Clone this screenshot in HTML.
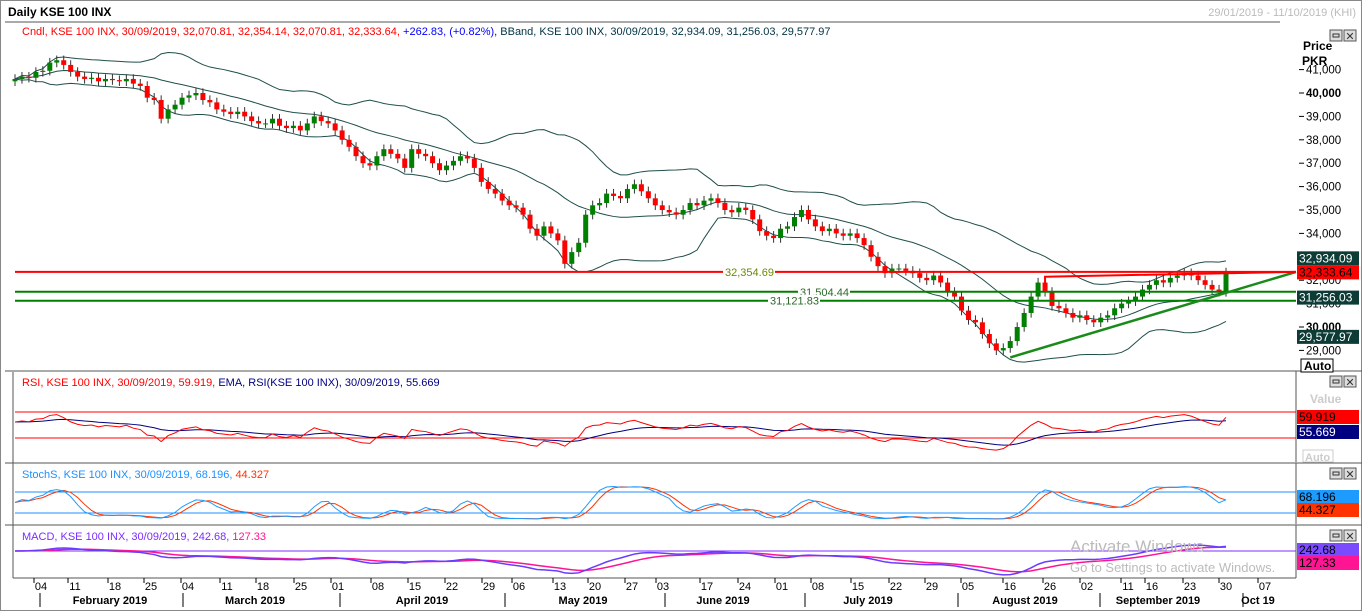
<!DOCTYPE html>
<html><head><meta charset="utf-8"><style>
body{margin:0;background:#fff;}
svg{display:block;font-family:"Liberation Sans",sans-serif;}
</style></head><body>
<svg id="c" width="1362" height="611" viewBox="0 0 1362 611">
<rect x="0" y="0" width="1362" height="611" fill="#fff"/>
<rect x="0.5" y="0.5" width="1361" height="610" fill="none" stroke="#888"/>
<text x="8" y="16" font-size="12" font-weight="bold" fill="#000">Daily KSE 100 INX</text>
<text x="1356" y="16" font-size="11" fill="#bbb" text-anchor="end">29/01/2019 - 11/10/2019 (KHI)</text>
<line x1="5" y1="22" x2="1280" y2="22" stroke="#555"/>
<text x="22" y="35" font-size="11"><tspan fill="#f00">Cndl, KSE 100 INX, 30/09/2019, 32,070.81, 32,354.14, 32,070.81, 32,333.64, </tspan><tspan fill="#00f">+262.83, (+0.82%), </tspan><tspan fill="#034">BBand, KSE 100 INX, 30/09/2019, 32,934.09, 31,256.03, 29,577.97</tspan></text>
<g id="panels"></g>
<g id="main"></g>
<g id="ind"></g>
<g id="axis"></g>
</svg>
<script>
const closes=[40600,40700,40650,40900,
40950,41300,41400,41200,40900, 40700,40600,40650,40500,40600, 40550,40500,40600,40400,40300,
39800,39700,38900,39300,39500, 39800,39900,40000,39700,39600, 39300,39200,39100,39200,39000,
38800,38700,38700,38900,38600, 38500,38600,38400,38700,39000, 38800,38700,38400,38000,37700,
37300,37000,36900,37300,37600, 37400,37200,36800,37600,37400, 37300,37000,36700,36900,37100,
37300,37200,36800,36200,35900, 35700,35400,35200,35100,34800, 34200,33900,34300,34000,33700,
32700,33200,33600,34800,35200, 35300,35700,35600,35500,35900, 36100,35800,35500,35200,35000,
34900,34800,35000,35300,35200, 35400,35500,35300,35000,34900, 35100,35000,34600,34100,33900,
33800,34200,34300,34700,35000, 34600,34300,34100,34200,34000, 33900,34000,33800,33500,33000,
32600,32300,32500,32500,32400, 32300,32100,32000,32200,31900, 31500,31300,30700,30300,30200,
29700,29300,29000,29100,29400, 30000,30600,31300,31900,31500, 30900,30800,30600,30400,30500,
30300,30200,30400,30500,30800, 31000,31100,31300,31600,31800, 32000,31900,32100,32200,32300,
32200,32000,31800,31600,31500, 32333.64];
const priceTicks=[41000,40000,39000,38000,37000,36000,35000,34000,32000,31000,30000,29000];
const hLevels=[32354.69,31504.44,31121.83];
const hLabels=["32,354.69","31,504.44","31,121.83"];
const dayLabels=["04","11","18","25","04","11","18","25","01","08","15","22","29","06","13","20","27","03","17","24","01","08","15","22","29","05","16","26","02","11","16","23","30","07"];
const dayX=[41,75,115,151,188,227,263,301,338,378,415,452,489,519,560,595,632,663,707,745,782,818,858,896,932,968,1010,1050,1087,1128,1152,1190,1226,1265];
const monthLabels=["February 2019","March 2019","April 2019","May 2019","June 2019","July 2019","August 2019","September 2019","Oct 19"];
const monthX=[110,255,422,583,723,868,1025,1158,1258];
const monthSep=[40,183,340,505,665,805,958,1100,1243];

const NS="http://www.w3.org/2000/svg";
function mk(p,t,a){const e=document.createElementNS(NS,t);for(const k in a)e.setAttribute(k,a[k]);p.appendChild(e);return e;}
const X=i=>15+i*(1211/(closes.length-1));
const Y=v=>93+(40000-v)*0.0234;
const P=document.getElementById('panels'),M=document.getElementById('main'),I=document.getElementById('ind'),A=document.getElementById('axis');
[[372,462],[464,524],[526,578]].forEach((r,k)=>{
 let l=mk(P,'line',{x1:5,y1:r[0]-1,x2:1362,y2:r[0]-1,stroke:'#555'});
 
 let v=mk(P,'line',{x1:1296,y1:r[0]-1,x2:1296,y2:r[1],stroke:'#555'});
 
});
mk(P,'line',{x1:13,y1:372,x2:13,y2:578,stroke:'#555'});
mk(P,'line',{x1:13,y1:578,x2:1296,y2:578,stroke:'#555'});
[[1330,30],[1330,376],[1330,468],[1330,530]].forEach(b=>{
 let g=mk(P,'g',{});
 mk(g,'rect',{x:b[0],y:b[1],width:12,height:11,fill:'#ddd',stroke:'#555'});
 mk(g,'rect',{x:b[0]+3,y:b[1]+4,width:6,height:3,fill:'none',stroke:'#333'});
 mk(g,'rect',{x:b[0]+14,y:b[1],width:12,height:11,fill:'#ddd',stroke:'#555'});
 let t=mk(g,'text',{x:b[0]+20,y:b[1]+10,'font-size':11,'text-anchor':'middle',fill:'#333'});t.textContent='✕';
});
let t=mk(A,'text',{x:1303,y:50,'font-size':12,'font-weight':'bold'});t.textContent='Price';
t=mk(A,'text',{x:1302,y:65,'font-size':12,'font-weight':'bold'});t.textContent='PKR';
priceTicks.forEach(v=>{
 const y=Y(v);
 mk(A,'line',{x1:1299,y1:y,x2:1304,y2:y,stroke:'#000'});
 let tt=mk(A,'text',{x:1306,y:y+4,'font-size':11.5,'font-weight':(v%10000==0?'bold':'normal')});
 
 tt.textContent=v.toLocaleString('en-US');
});
function badge(y,txt,bg,fg){let g=mk(A,'g',{});
 mk(g,'rect',{x:1297,y:y-7,width:62,height:14,fill:bg});
 let q=mk(g,'text',{x:1299,y:y+4,'font-size':12,fill:fg});q.textContent=txt;}
const up=[],mid=[],lo=[];
closes.forEach((c,i)=>{const s=closes.slice(Math.max(0,i-19),i+1);const m=s.reduce((a,b)=>a+b,0)/s.length;
 const sd=Math.sqrt(s.reduce((a,b)=>a+(b-m)*(b-m),0)/s.length);mid.push(m);up.push(m+2*sd);lo.push(m-2*sd);});
[up,mid,lo].forEach((arr,k)=>{let p=mk(M,'polyline',{points:arr.map((v,i)=>X(i)+','+Y(v)).join(' '),fill:'none',stroke:'#1f4f4a','stroke-width':1});
 });
closes.forEach((c,i)=>{const o=i?closes[i-1]:c-100;const x=X(i);const g=c>=o;
 const col=g?'#008000':'#f00';
 let w=mk(M,'line',{x1:x,y1:Y(Math.max(o,c)+200),x2:x,y2:Y(Math.min(o,c)-200),stroke:'#333'});
 
 let r=mk(M,'rect',{x:x-2.5,y:Y(Math.max(o,c)),width:5,height:Math.max(1,Y(Math.min(o,c))-Y(Math.max(o,c))),fill:col});
 });
hLevels.forEach((v,k)=>{const col=k?'#008000':'#f00';
 let l=mk(M,'line',{x1:15,y1:Y(v),x2:1296,y2:Y(v),stroke:col,'stroke-width':2});
 
 let tx=[725,800,770][k];
 let bb=mk(M,'rect',{x:tx-2,y:Y(v)-6,width:52,height:12,fill:'#fff'});
 let tt=mk(M,'text',{x:tx,y:Y(v)+4,'font-size':11,fill:k?'#2a6a2a':'#6a8a00'});
 
 tt.textContent=hLabels[k];});
let tl=mk(M,'line',{x1:X(143),y1:Y(28700),x2:1296,y2:Y(32354.69),stroke:'#1a8a1a','stroke-width':2.5});

let rb=mk(M,'polyline',{points:`${X(148)},${Y(31504)} ${X(148)},${Y(32150)} 1296,${Y(32354.69)}`,fill:'none',stroke:'#f00','stroke-width':2});

badge(Y(32934.09),'32,934.09','#0d3b36','#fff');
badge(Y(32333.64),'32,333.64','#f00','#000');
badge(Y(31256.03),'31,256.03','#0d3b36','#fff');
badge(Y(29577.97),'29,577.97','#0d3b36','#fff');
mk(A,'rect',{x:1301,y:359,width:32,height:13,fill:'#fff',stroke:'#000'});
t=mk(A,'text',{x:1304,y:370,'font-size':12,'font-weight':'bold'});t.textContent='Auto';
const rsi=[];let ag=120,al=100;
closes.forEach((c,i)=>{if(!i){rsi.push(100-100/(1+ag/al));return;}const d=c-closes[i-1];const g=Math.max(d,0),l=Math.max(-d,0);
 ag=(ag*13+g)/14;al=(al*13+l)/14;
 rsi.push(al===0?100:100-100/(1+ag/al));});
const rema=[];rsi.forEach((v,i)=>rema.push(i?rema[i-1]+(v-rema[i-1])*2/15:v));
const YR=v=>425-(v-50)*0.65;
[70,30].forEach(v=>mk(I,'line',{x1:15,y1:YR(v),x2:1296,y2:YR(v),stroke:'#f00'}));
let p=mk(I,'polyline',{points:rema.map((v,i)=>X(i)+','+YR(v)).join(' '),fill:'none',stroke:'#000080'});
p=mk(I,'polyline',{points:rsi.map((v,i)=>X(i)+','+YR(v)).join(' '),fill:'none',stroke:'#f00'});
t=mk(I,'text',{x:22,y:386,'font-size':11});t.innerHTML='<tspan fill="#f00">RSI, KSE 100 INX, 30/09/2019, 59.919, </tspan><tspan fill="#000080">EMA, RSI(KSE 100 INX), 30/09/2019, 55.669</tspan>';
t=mk(A,'text',{x:1310,y:403,'font-size':12,'font-weight':'bold',fill:'#ccc'});t.textContent='Value';
badge(YR(70)+5,'59.919','#f00','#000');badge(YR(70)+20,'55.669','#000080','#fff');
mk(A,'rect',{x:1303,y:450,width:30,height:12,fill:'#fff',stroke:'#ccc'});
t=mk(A,'text',{x:1305,y:461,'font-size':11,'font-weight':'bold',fill:'#ccc'});t.textContent='Auto';
const kr=[];closes.forEach((c,i)=>{const s=closes.slice(Math.max(0,i-13),i+1);const h=Math.max(...s)+100,l=Math.min(...s)-100;kr.push((c-l)/(h-l)*100);});
const sm=(a,n)=>a.map((v,i)=>{const s=a.slice(Math.max(0,i-n+1),i+1);return s.reduce((x,y)=>x+y,0)/s.length;});
const sk=sm(kr,3),sd=sm(sk,3);
const YS=v=>502.5-(v-50)*0.35;
[80,20].forEach(v=>mk(I,'line',{x1:15,y1:YS(v),x2:1296,y2:YS(v),stroke:'#1e90ff'}));
p=mk(I,'polyline',{points:sd.map((v,i)=>X(i)+','+YS(v)).join(' '),fill:'none',stroke:'#ff3300'});
p=mk(I,'polyline',{points:sk.map((v,i)=>X(i)+','+YS(v)).join(' '),fill:'none',stroke:'#1e9bff'});
t=mk(I,'text',{x:22,y:478,'font-size':11});t.innerHTML='<tspan fill="#1e90ff">StochS, KSE 100 INX, 30/09/2019, 68.196, </tspan><tspan fill="#ff3300">44.327</tspan>';
badge(497,'68.196','#1e9bff','#000');badge(510,'44.327','#ff3300','#000');
const ema=(a,n)=>{const r=[];a.forEach((v,i)=>r.push(i?r[i-1]+(v-r[i-1])*2/(n+1):v));return r;};
const e12=ema(closes,12),e26=ema(closes,26);const macd=e12.map((v,i)=>v-e26[i]);const sig=ema(macd,9);
const YM=v=>551-v*0.02;
mk(I,'line',{x1:15,y1:YM(0),x2:1296,y2:YM(0),stroke:'#7b2cff'});
p=mk(I,'polyline',{points:sig.map((v,i)=>X(i)+','+YM(v)).join(' '),fill:'none',stroke:'#ff1493','stroke-width':1.5});
p=mk(I,'polyline',{points:macd.map((v,i)=>X(i)+','+YM(v)).join(' '),fill:'none',stroke:'#6a3cff','stroke-width':1.5});
t=mk(I,'text',{x:22,y:540,'font-size':11});t.innerHTML='<tspan fill="#7b2cff">MACD, KSE 100 INX, 30/09/2019, 242.68, </tspan><tspan fill="#ff1493">127.33</tspan>';
badge(550,'242.68','#7b4cff','#000');badge(563,'127.33','#ff1493','#000');
t=mk(I,'text',{x:1070,y:552,'font-size':17,fill:'#bbb'});t.textContent='Activate Windows';
t=mk(I,'text',{x:1070,y:572,'font-size':13,fill:'#bbb'});t.textContent='Go to Settings to activate Windows.';
dayLabels.forEach((d,k)=>{mk(A,'line',{x1:dayX[k]-7,y1:578,x2:dayX[k]-7,y2:583,stroke:'#000'});
 let q=mk(A,'text',{x:dayX[k],y:590,'font-size':11,'text-anchor':'middle'});q.textContent=d;});
monthLabels.forEach((m,k)=>{let q=mk(A,'text',{x:monthX[k],y:604,'font-size':11,'font-weight':'bold','text-anchor':'middle'});q.textContent=m;});
monthSep.forEach(x=>mk(A,'line',{x1:x,y1:593,x2:x,y2:607,stroke:'#000'}));
</script>
</body></html>
